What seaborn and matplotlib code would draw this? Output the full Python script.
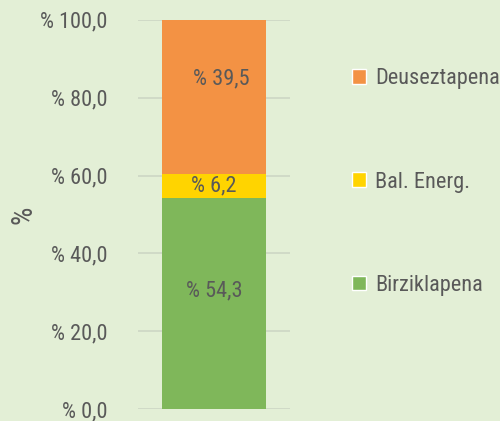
import matplotlib
matplotlib.use('Agg')
import numpy as np
import pandas as pd
import seaborn as sns
import matplotlib.pyplot as plt
from matplotlib.patches import Patch

# Datos
kategoriak = ['Birziklapena', 'Bal. Energ.', 'Deuseztapena']
balioak = [54.3, 6.2, 39.5]
koloreak = ['#7FB75A', '#FFD400', '#F39244']
ytick_balioak = [0, 20, 40, 60, 80, 100]

# desplazamiento de etiquetas (puntos), como en el original
etiketa_desplazamendua = [(0, 9), (0, 0), (5, 13)]

bg = '#E3EFD6'
testu_kolorea = '#595959'

sns.set_theme(style='white')
plt.rcParams['font.family'] = ['Roboto Condensed', 'DejaVu Sans']

fig = plt.figure(figsize=(5, 4.21), dpi=100, facecolor=bg)
ax = fig.add_axes([0.276, 0.028, 0.304, 0.925])
ax.set_facecolor(bg)

# Barra apilada: dibujar totales acumulados de arriba hacia abajo
metatuak = np.cumsum(balioak)
df = pd.DataFrame({'x': [''] * 3, 'y': metatuak, 'kat': kategoriak})
for i in reversed(range(len(kategoriak))):
    sns.barplot(data=df.iloc[[i]], x='x', y='y', color=koloreak[i],
                width=0.69, saturation=1, ax=ax, zorder=2, linewidth=0)

# Etiquetas de cada segmento
behekoak = metatuak - np.array(balioak)
for b, v, d in zip(behekoak, balioak, etiketa_desplazamendua):
    ax.annotate(('% ' + f'{v:.1f}').replace('.', ','), xy=(0, b + v / 2),
                xytext=d, textcoords='offset points', ha='center', va='center',
                fontsize=16, color=testu_kolorea, zorder=3)

ax.set_xlim(-0.5, 0.5)
ax.set_ylim(0, 100)
ax.set_yticks(ytick_balioak)
ax.set_yticklabels([('% ' + f'{t:.1f}').replace('.', ',') for t in ytick_balioak],
                   fontsize=16, color=testu_kolorea)
ax.tick_params(axis='y', length=0, pad=22)
ax.set_xticks([])
ax.set_xlabel('')
ax.set_ylabel('%', fontsize=21, color=testu_kolorea, labelpad=2)
ax.grid(axis='y', color='#CDD6C4', linewidth=1.2, zorder=0)
for s in ax.spines.values():
    s.set_visible(False)

# Leyenda
eskuak = [Patch(facecolor=koloreak[i], label=kategoriak[i]) for i in reversed(range(3))]
leg = fig.legend(handles=eskuak, loc='upper left', bbox_to_anchor=(0.664, 0.885),
                 frameon=False, fontsize=16, labelspacing=3.7,
                 handlelength=0.65, handleheight=0.65, handletextpad=0.4)
for t in leg.get_texts():
    t.set_color(testu_kolorea)

fig.savefig('out.png', dpi=100, facecolor=bg)
